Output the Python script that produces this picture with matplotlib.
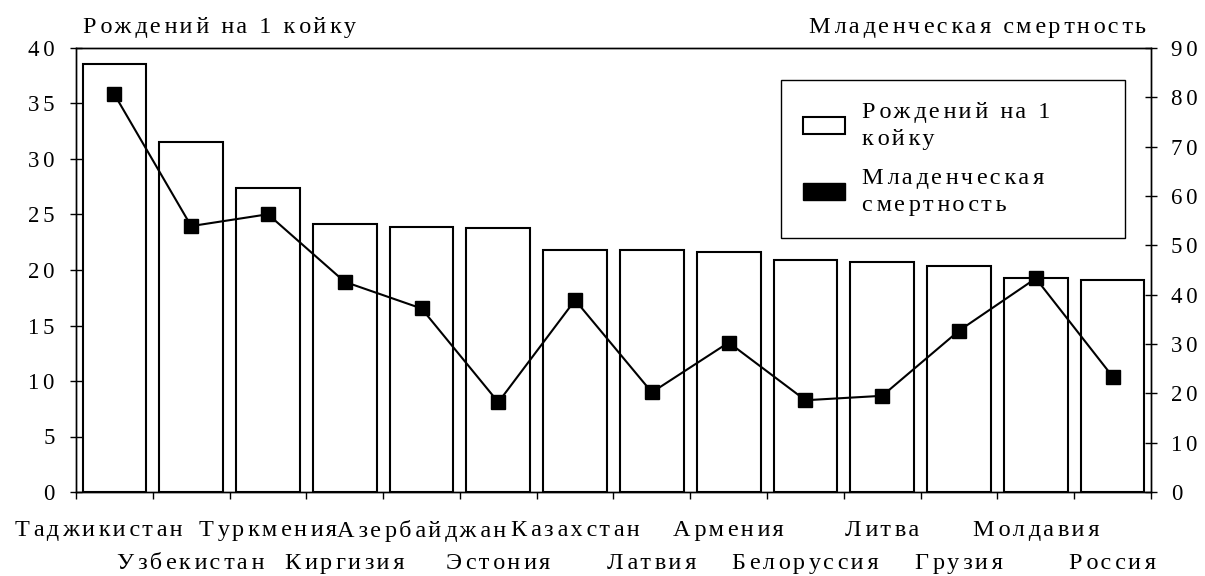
import matplotlib
matplotlib.use('Agg')
import matplotlib.pyplot as plt
from matplotlib.patches import Patch
from matplotlib.transforms import ScaledTranslation
import numpy as np

plt.rcParams['font.family'] = ['Liberation Serif', 'DejaVu Serif']
plt.rcParams['font.size'] = 17.5

# data
countries = ['Таджикистан', 'Узбекистан', 'Туркмения', 'Киргизия', 'Азербайджан',
             'Эстония', 'Казахстан', 'Латвия', 'Армения', 'Белоруссия',
             'Литва', 'Грузия', 'Молдавия', 'Россия']
births_per_bed = [38.6, 31.5, 27.4, 24.1, 23.9, 23.8, 21.8, 21.8, 21.6, 20.9, 20.7, 20.4, 19.3, 19.1]
infant_mortality = [80.6, 53.9, 56.3, 42.6, 37.2, 18.2, 38.9, 20.2, 30.3, 18.6, 19.5, 32.7, 43.3, 23.4]
left_ticks = list(range(0, 41, 5))
right_ticks = list(range(0, 91, 10))

left_title = 'Рождений на 1 койку'
right_title = 'Младенческая смертность'
legend_labels = ['Рождений на 1\nкойку', 'Младенческая\nсмертность']


def spaced(s):
    # wide letter spacing like the original: alternate six-per-em and hair spaces
    out = []
    for line in s.split('\n'):
        chunk = line[:1]
        for i, ch in enumerate(line[1:]):
            chunk += ('\u2006' if i % 2 == 0 else '\u200a') + ch
        out.append(chunk)
    return '\n'.join(out)


W, H = 1205, 576
fig = plt.figure(figsize=(W / 100, H / 100), dpi=100)
ax = fig.add_axes([76 / W, 84 / H, (1151 - 76) / W, (492 - 48) / H])

x = np.arange(len(countries))
ax.bar(x, births_per_bed, width=0.83, color='white', edgecolor='black', linewidth=1.5, zorder=2)
ax.set_xlim(-0.5, len(countries) - 0.5)
ax.set_ylim(0, 40)
ax.set_yticks(left_ticks)
ax.set_yticklabels([spaced(str(v)) for v in left_ticks], fontsize=16.5)

# category boundaries get the tick marks, centres get the labels (two rows)
ax.set_xticks(np.arange(-0.5, len(countries), 1))
ax.set_xticklabels([])
ax.set_xticks(x, minor=True)
labels = [spaced(c) if i % 2 == 0 else '\n' + spaced(c) for i, c in enumerate(countries)]
ax.set_xticklabels(labels, minor=True)
ax.tick_params(axis='x', which='major', direction='out', length=5, width=1)
ax.tick_params(axis='x', which='minor', length=0, pad=20)
ax.tick_params(axis='y', direction='inout', length=9, width=1, pad=11)
for t in ax.get_xticklabels(minor=True):
    t.set_linespacing(1.75)
# the first label sits a bit left of its bar in the original
first = ax.get_xticklabels(minor=True)[0]
first.set_transform(first.get_transform() + ScaledTranslation(-0.16, 0, fig.dpi_scale_trans))

ax2 = ax.twinx()
ax2.plot(x, infant_mortality, color='black', linewidth=1.5, marker='s', markersize=10,
         markerfacecolor='black', zorder=3)
ax2.set_ylim(0, 90)
ax2.set_yticks(right_ticks)
ax2.set_yticklabels([spaced(str(v)) for v in right_ticks], fontsize=16.5)
ax2.tick_params(axis='y', direction='inout', length=9, width=1, pad=10)

for a in (ax, ax2):
    for sp in a.spines.values():
        sp.set_linewidth(1.0)
        sp.set_color('black')

handles = [Patch(facecolor='white', edgecolor='black', linewidth=1.5),
           Patch(facecolor='black', edgecolor='black')]
leg = ax2.legend(handles, [spaced(l) for l in legend_labels], loc='upper left',
                 bbox_to_anchor=(781 / W, 1 - 80 / H, (1125 - 781) / W, 0),
                 bbox_transform=fig.transFigure, mode='expand', fancybox=False,
                 edgecolor='black', framealpha=1, handlelength=1.75, handleheight=0.7,
                 handletextpad=0.7, borderpad=0.9, labelspacing=0.75, borderaxespad=0)
leg.get_frame().set_linewidth(1.0)
for t in leg.get_texts():
    t.set_linespacing(1.37)

fig.text(83 / W, 1 - 33 / H, spaced(left_title), ha='left', va='baseline')
fig.text(1146 / W, 1 - 33 / H, spaced(right_title), ha='right', va='baseline')

fig.savefig('out.png', dpi=100)
